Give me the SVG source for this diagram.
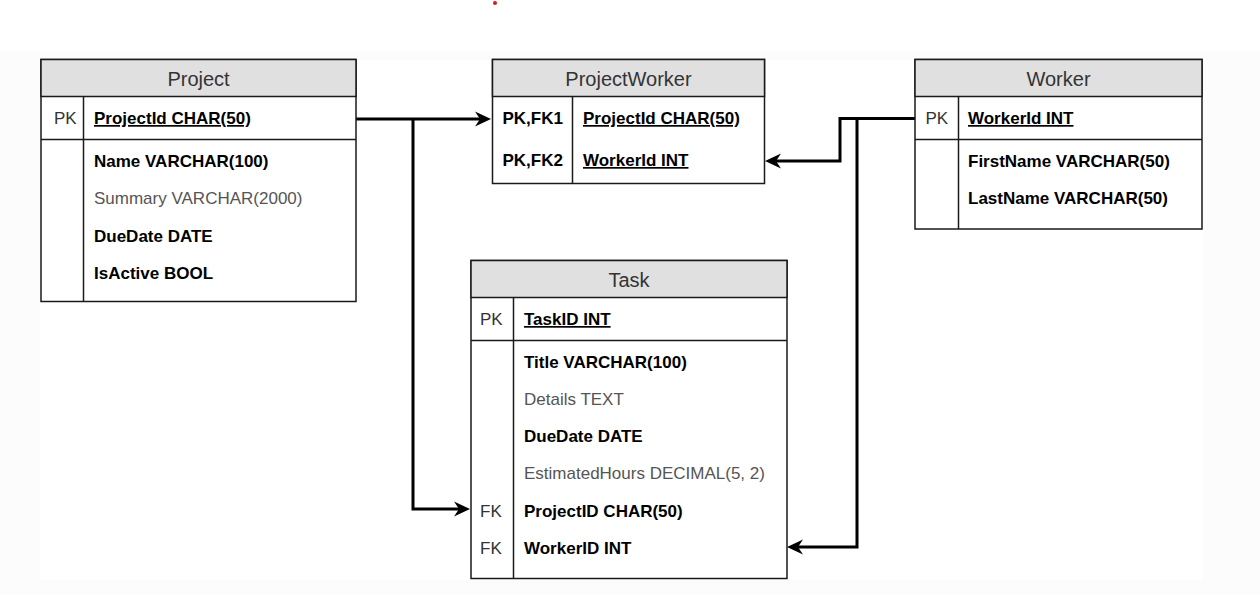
<svg xmlns="http://www.w3.org/2000/svg" width="1260" height="594" viewBox="0 0 1260 594">
  <style>
    .box{fill:#ffffff;stroke:#1a1a1a;stroke-width:1.5}
    .hdr{fill:#e0e0e0;stroke:#1a1a1a;stroke-width:1.5}
    .ln{stroke:#1a1a1a;stroke-width:1.5;fill:none}
    .title{font-family:"Liberation Sans",Arial,sans-serif;font-size:20px;fill:#333333;text-anchor:middle}
    .key{font-family:"Liberation Sans",Arial,sans-serif;font-size:17px;fill:#333333}
    .keyb{font-family:"Liberation Sans",Arial,sans-serif;font-size:17px;font-weight:bold;fill:#000000}
    .fb{font-family:"Liberation Sans",Arial,sans-serif;font-size:17px;font-weight:bold;fill:#000000}
    .fr{font-family:"Liberation Sans",Arial,sans-serif;font-size:17px;fill:#555555}
    .u{text-decoration:underline}
    .conn{fill:none;stroke:#000000;stroke-width:3;stroke-linejoin:miter}
  </style>
  <defs>
    <marker id="arr" viewBox="0 -8 17 16" refX="6" refY="0" markerWidth="17" markerHeight="16" markerUnits="userSpaceOnUse" orient="auto">
      <path d="M16,0 L0,-7.5 L5,0 L0,7.5 Z" fill="#000000"/>
    </marker>
  </defs>
  <rect x="0" y="0" width="1260" height="594" fill="#ffffff"/>
  <rect x="0" y="50" width="1260" height="544" fill="#fcfcfc"/>
  <rect x="40" y="60" width="1163" height="520" fill="#ffffff"/>
  <circle cx="495" cy="3" r="2" fill="#e01818"/>

  <g id="connectors">
    <path class="conn" d="M356,119 H481" marker-end="url(#arr)"/>
    <path class="conn" d="M413,119 V509 H460" marker-end="url(#arr)"/>
    <path class="conn" d="M915,118.5 H840 V161 H775" marker-end="url(#arr)"/>
    <path class="conn" d="M857,118.5 V547 H797" marker-end="url(#arr)"/>
  </g>

  <g id="project">
    <rect class="box" x="41" y="59.5" width="315" height="242"/>
    <rect class="hdr" x="41" y="59.5" width="315" height="37"/>
    <line class="ln" x1="41" y1="139.5" x2="356" y2="139.5"/>
    <line class="ln" x1="83.5" y1="96.5" x2="83.5" y2="301.5"/>
    <text class="title" x="198.5" y="86">Project</text>
    <text class="key" x="54" y="124">PK</text>
    <text class="fb u" x="94" y="124">ProjectId CHAR(50)</text>
    <text class="fb" x="94" y="167">Name VARCHAR(100)</text>
    <text class="fr" x="94" y="204">Summary VARCHAR(2000)</text>
    <text class="fb" x="94" y="241.5">DueDate DATE</text>
    <text class="fb" x="94" y="278.5">IsActive BOOL</text>
  </g>

  <g id="projectworker">
    <rect class="box" x="492.5" y="59.5" width="272" height="124"/>
    <rect class="hdr" x="492.5" y="59.5" width="272" height="37"/>
    <line class="ln" x1="572.5" y1="96.5" x2="572.5" y2="183.5"/>
    <text class="title" x="628.5" y="86">ProjectWorker</text>
    <text class="keyb" x="502.5" y="124">PK,FK1</text>
    <text class="fb u" x="583" y="124">ProjectId CHAR(50)</text>
    <text class="keyb" x="502.5" y="166">PK,FK2</text>
    <text class="fb u" x="583" y="166">WorkerId INT</text>
  </g>

  <g id="worker">
    <rect class="box" x="915" y="59.5" width="287" height="169.5"/>
    <rect class="hdr" x="915" y="59.5" width="287" height="37"/>
    <line class="ln" x1="915" y1="139.5" x2="1202" y2="139.5"/>
    <line class="ln" x1="958.5" y1="96.5" x2="958.5" y2="229"/>
    <text class="title" x="1058.5" y="86">Worker</text>
    <text class="key" x="925.5" y="124">PK</text>
    <text class="fb u" x="968" y="124">WorkerId INT</text>
    <text class="fb" x="968" y="167">FirstName VARCHAR(50)</text>
    <text class="fb" x="968" y="204">LastName VARCHAR(50)</text>
  </g>

  <g id="task">
    <rect class="box" x="471" y="260.5" width="316" height="318"/>
    <rect class="hdr" x="471" y="260.5" width="316" height="37"/>
    <line class="ln" x1="471" y1="340.5" x2="787" y2="340.5"/>
    <line class="ln" x1="513.5" y1="297.5" x2="513.5" y2="578.5"/>
    <text class="title" x="629" y="287">Task</text>
    <text class="key" x="480" y="325">PK</text>
    <text class="fb u" x="524" y="325">TaskID INT</text>
    <text class="fb" x="524" y="368">Title VARCHAR(100)</text>
    <text class="fr" x="524" y="404.5">Details TEXT</text>
    <text class="fb" x="524" y="442">DueDate DATE</text>
    <text class="fr" x="524" y="479">EstimatedHours DECIMAL(5, 2)</text>
    <text class="key" x="480" y="516.5">FK</text>
    <text class="fb" x="524" y="516.5">ProjectID CHAR(50)</text>
    <text class="key" x="480" y="554">FK</text>
    <text class="fb" x="524" y="554">WorkerID INT</text>
  </g>
</svg>
